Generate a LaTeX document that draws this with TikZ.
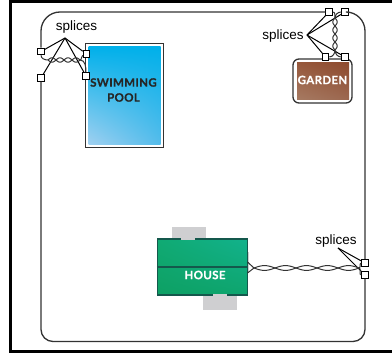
\documentclass[tikz,border=0pt]{standalone}
\usepackage{fontspec}
\usetikzlibrary{shadings}
\setmainfont{Liberation Sans}
\newfontfamily\signfont{Lato}[BoldFeatures={FakeBold=0.6}, LetterSpace=3]

\definecolor{wallgray}{HTML}{333333}
\definecolor{tabgray}{HTML}{CFCFD1}
\definecolor{housedark}{HTML}{14584C}
\definecolor{houseUL}{RGB}{16,170,115}
\definecolor{houseUR}{RGB}{18,178,140}
\definecolor{houseLL}{RGB}{14,160,100}
\definecolor{houseLR}{RGB}{14,165,110}
\definecolor{poolU}{RGB}{0,176,234}
\definecolor{poolLL}{RGB}{160,208,240}
\definecolor{poolLR}{RGB}{84,188,235}
\definecolor{gardenUL}{RGB}{150,88,60}
\definecolor{gardenUR}{RGB}{142,74,46}
\definecolor{gardenLL}{RGB}{166,122,98}
\definecolor{gardenLR}{RGB}{156,104,80}

\tikzset{
    splice/.style={draw=black, fill=white, line width=1pt, minimum size=6.5pt, inner sep=0pt},
    wall/.style={draw=wallgray, line width=1.3pt},
    pair/.style={draw=wallgray, line width=1pt},
    lead/.style={draw=black, line width=1pt},
    splicetext/.style={font=\fontsize{13.5}{14}\selectfont, inner sep=0pt, text=black},
    sign/.style={font=\signfont\bfseries\fontsize{11.5}{15}\selectfont, align=center, inner sep=0pt},
    tab/.style={fill=tabgray, inner sep=0pt}
}

\begin{document}
\begin{tikzpicture}[x=1pt, y=1pt]
                \useasboundingbox (0,0) rectangle (392,354);
                \draw[line width=3pt] (392,352.5) -- (10,352.5) -- (10,2.5) -- (392,2.5);

                \node[tab, minimum width=34pt, minimum height=12pt] (tabtop) at (189,121) {};
                \node[tab, minimum width=34pt, minimum height=16pt] (tabbottom) at (220,51.5) {};
                \fill[tabgray] (247.5,102) rectangle (249,81);
                \node[draw=housedark, line width=1.2pt, minimum width=90pt, minimum height=56pt, inner sep=0pt,
                    upper left=houseUL, upper right=houseUR, lower left=houseLL, lower right=houseLR] (house) at (202.5,87) {};
                \draw[housedark, line width=1.6pt] (house.west) -- (house.east);
                \draw[tabgray, line width=1.2pt] (181,115) -- (195,115);
                \draw[tabgray, line width=1.2pt] (213,59) -- (227,59);
                \node[sign, text=white] (housetext) at (205,79) {HOUSE};

                \node[draw=wallgray, line width=1.4pt, minimum width=78pt, minimum height=104pt] (poolframe) at (124.5,258.5) {};
                \node[minimum width=72pt, minimum height=98pt, inner sep=0pt,
                    upper left=poolU, upper right=poolU, lower left=poolLL, lower right=poolLR] (pool) at (124.5,258.5) {};
                \node[sign, text=black!85] (pooltext) at (123.5,264) {SWIMMING\\POOL};

                \node[draw=wallgray, fill=white, line width=1.3pt, rounded corners=6pt, minimum width=59pt, minimum height=44pt] (gardenframe) at (322.5,273) {};
                \node[minimum width=52pt, minimum height=37pt, inner sep=0pt,
                    upper left=gardenUL, upper right=gardenUR, lower left=gardenLL, lower right=gardenLR] (garden) at (323,273) {};
                \node[sign, text=white] (gardentext) at (322.5,274) {GARDEN};

                \node[splice] (poolA) at (41,302.5) {};
                \node[splice] (poolB) at (86.5,300) {};
                \node[splice] (poolC) at (41,276) {};
                \node[splice] (poolD) at (86,278) {};
                \node[splice] (gardenA) at (329,342) {};
                \node[splice] (gardenB) at (345,342) {};
                \node[splice] (gardenC) at (325.5,297) {};
                \node[splice] (gardenD) at (345,297) {};
                \node[splice] (houseA) at (365,91) {};
                \node[splice] (houseB) at (365,79) {};
                \coordinate (corner) at (365,12.5);

                \draw[wall, rounded corners=19pt] (poolA) |- (gardenA);
                \draw[wall, rounded corners=19pt] (gardenB) -| (houseA);
                \draw[wall, rounded corners=12pt] (poolC) |- (corner) -- (houseB);

                \node[splicetext] (poollabel) at (76.5,326.5) {splices};
                \node[splicetext] (gardenlabel) at (283,317.5) {splices};
                \node[splicetext] (houselabel) at (336,112.5) {splices};
                \coordinate (poolapex) at (65,316);
                \coordinate (gardenapex) at (307,319);
                \coordinate (houseapex) at (338,106);
                \foreach \s in {A,B,C,D} {
                    \draw[lead] (poolapex) -- (pool\s);
                    \draw[lead] (gardenapex) -- (garden\s);
                }
                \foreach \s in {A,B}
                    \draw[lead] (houseapex) -- (house\s);

                \coordinate (poolL) at (48,294);
                \coordinate (poolR) at (80,294);
                \scope[shift={(poolL)}]
                    \draw[pair] plot[domain=0:32, samples=60, smooth] (\x,{2.2*sin(\x*22.5)});
                    \draw[pair] plot[domain=0:32, samples=60, smooth] (\x,{-2.2*sin(\x*22.5)});
                \endscope
                \draw[pair] (poolL) to[out=180, in=270] (poolA);
                \draw[pair] (poolR) to[out=0, in=200] (poolB);
                \draw[pair] (poolR) to[out=0, in=90] (poolD);

                \coordinate (gardenT) at (335,336);
                \coordinate (gardenL) at (335,304);
                \scope[shift={(gardenL)}]
                    \draw[pair] plot[domain=0:32, samples=60, smooth] ({2.2*sin(\x*22.5)},\x);
                    \draw[pair] plot[domain=0:32, samples=60, smooth] ({-2.2*sin(\x*22.5)},\x);
                \endscope
                \draw[pair] (gardenT) to[out=90, in=0] (gardenA);
                \draw[pair] (gardenT) to[out=90, in=180] (gardenB);
                \draw[pair] (gardenL) to[out=270, in=0] (gardenC);
                \draw[pair] (gardenL) to[out=270, in=180] (gardenD);

                \coordinate (houseL) at (254,86);
                \coordinate (houseR) at (359,86);
                \scope[shift={(houseL)}]
                    \draw[pair] plot[domain=0:105, samples=120, smooth] (\x,{2.4*sin(\x*8.57)});
                    \draw[pair] plot[domain=0:105, samples=120, smooth] (\x,{-2.4*sin(\x*8.57)});
                \endscope
                \draw[pair] (houseL) -- (247.5,92);
                \draw[pair] (houseL) -- (247.5,81);
                \draw[pair] (houseR) to[out=0, in=180] (houseA);
                \draw[pair] (houseR) to[out=0, in=180] (houseB);
\end{tikzpicture}
\end{document}
